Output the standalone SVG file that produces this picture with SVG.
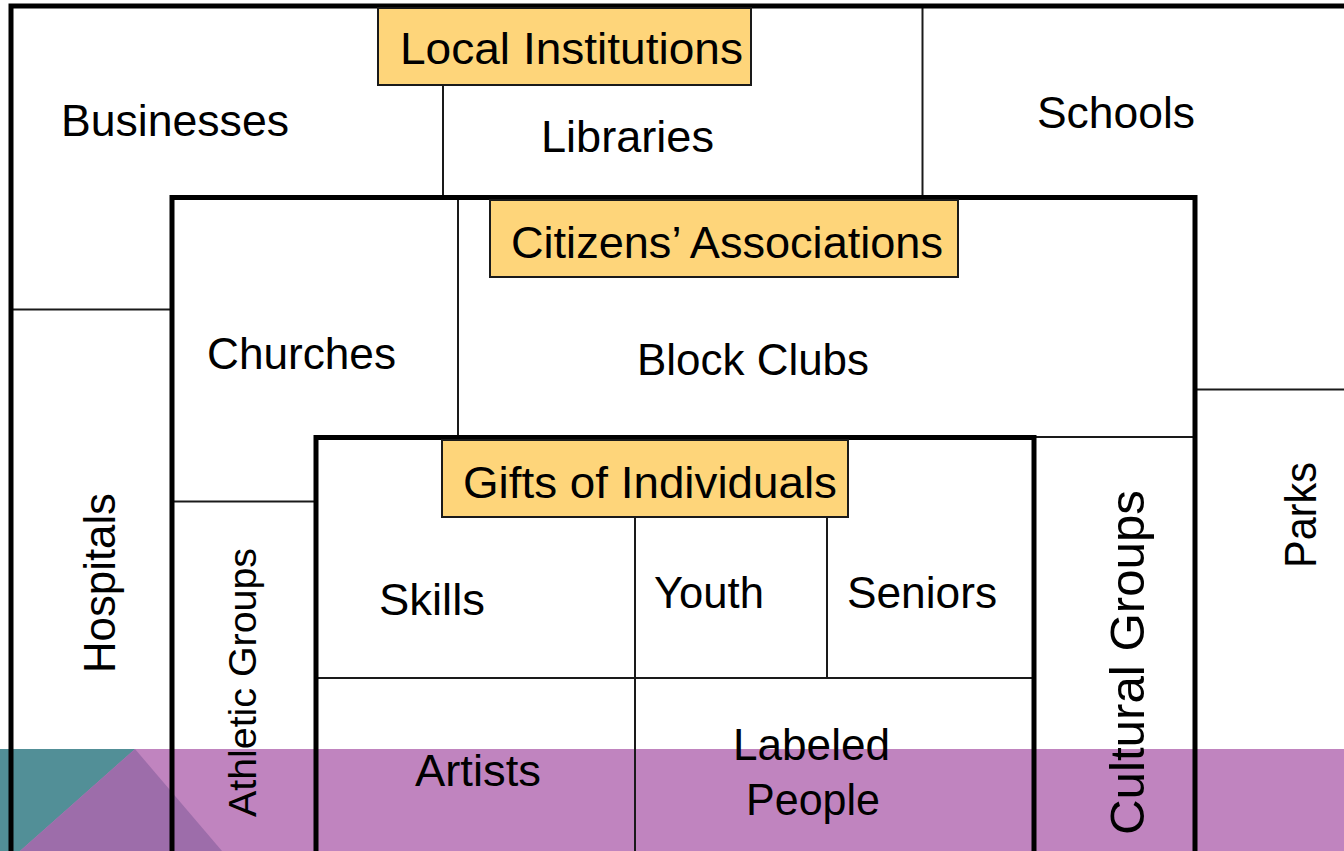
<svg xmlns="http://www.w3.org/2000/svg" width="1344" height="851" viewBox="0 0 1344 851">
<style>
  .thick { stroke: #000; stroke-width: 5; fill: none; stroke-linecap: square; }
  .thin { stroke: #1a1a1a; stroke-width: 2; fill: none; }
  .tag { fill: #FED57A; stroke: #1a1a1a; stroke-width: 2; }
  .lbl { font-family: "Liberation Sans", Arial, sans-serif; font-size: 44px; fill: #000; }
  .vl { font-family: "Liberation Sans", Arial, sans-serif; fill: #000; }
</style>
<rect x="0" y="0" width="1344" height="851" fill="#ffffff"/>
<g id="band">
  <rect x="0" y="749" width="1344" height="102" fill="#C084BF"/>
  <polygon points="0,749 135,749 20,851 0,851" fill="#528F97"/>
  <polygon points="135,749 222,851 20,851" fill="#9D6DAA"/>
</g>
<g id="dividers">
  <line class="thin" x1="443" y1="85" x2="443" y2="196"/>
  <line class="thin" x1="922.5" y1="8" x2="922.5" y2="196"/>
  <line class="thin" x1="13" y1="309.5" x2="170" y2="309.5"/>
  <line class="thin" x1="458" y1="200" x2="458" y2="435"/>
  <line class="thin" x1="174" y1="501.5" x2="314" y2="501.5"/>
  <line class="thin" x1="1036" y1="437" x2="1193" y2="437"/>
  <line class="thin" x1="1197" y1="389.5" x2="1344" y2="389.5"/>
  <line class="thin" x1="635" y1="517" x2="635" y2="851"/>
  <line class="thin" x1="827" y1="517" x2="827" y2="678"/>
  <line class="thin" x1="318" y1="678" x2="1032" y2="678"/>
</g>
<g id="frames">
  <path class="thick" d="M11,853 L11,6 L1346,6"/>
  <path class="thick" d="M172,853 L172,197.5 L1195,197.5 L1195,853"/>
  <path class="thick" d="M316,853 L316,437.5 L1034,437.5 L1034,853"/>
</g>
<g id="local-institutions">
  <rect class="tag" x="378" y="8" width="373" height="77"/>
  <text class="lbl" x="400" y="64" textLength="343" lengthAdjust="spacingAndGlyphs">Local Institutions</text>
</g>
<g id="businesses"><text class="lbl" x="61" y="136" textLength="228" lengthAdjust="spacingAndGlyphs">Businesses</text></g>
<g id="libraries"><text class="lbl" x="541" y="152" textLength="173" lengthAdjust="spacingAndGlyphs">Libraries</text></g>
<g id="schools"><text class="lbl" x="1037" y="128" textLength="158" lengthAdjust="spacingAndGlyphs">Schools</text></g>
<g id="hospitals"><text class="vl" font-size="44" transform="translate(115,673) rotate(-90)" textLength="180" lengthAdjust="spacingAndGlyphs">Hospitals</text></g>
<g id="citizens-associations">
  <rect class="tag" x="490" y="200" width="468" height="77"/>
  <text class="lbl" x="511" y="258" textLength="432" lengthAdjust="spacingAndGlyphs">Citizens’ Associations</text>
</g>
<g id="churches"><text class="lbl" x="207" y="369" textLength="189" lengthAdjust="spacingAndGlyphs">Churches</text></g>
<g id="block-clubs"><text class="lbl" x="637" y="375" textLength="232" lengthAdjust="spacingAndGlyphs">Block Clubs</text></g>
<g id="athletic-groups"><text class="vl" font-size="39.5" transform="translate(256,817) rotate(-90)" textLength="269" lengthAdjust="spacingAndGlyphs">Athletic Groups</text></g>
<g id="cultural-groups"><text class="vl" font-size="49" transform="translate(1144,835) rotate(-90)" textLength="345" lengthAdjust="spacingAndGlyphs">Cultural Groups</text></g>
<g id="parks"><text class="vl" font-size="44" transform="translate(1316,568) rotate(-90)" textLength="106" lengthAdjust="spacingAndGlyphs">Parks</text></g>
<g id="gifts-of-individuals">
  <rect class="tag" x="442" y="440" width="406" height="77"/>
  <text class="lbl" x="463" y="498" textLength="374" lengthAdjust="spacingAndGlyphs">Gifts of Individuals</text>
</g>
<g id="skills"><text class="lbl" x="379" y="615" textLength="106" lengthAdjust="spacingAndGlyphs">Skills</text></g>
<g id="youth"><text class="lbl" x="654" y="608" textLength="110" lengthAdjust="spacingAndGlyphs">Youth</text></g>
<g id="seniors"><text class="lbl" x="847" y="608" textLength="150" lengthAdjust="spacingAndGlyphs">Seniors</text></g>
<g id="artists"><text class="lbl" x="415" y="786" textLength="126" lengthAdjust="spacingAndGlyphs">Artists</text></g>
<g id="labeled-people">
  <text class="lbl" x="733" y="760" textLength="157" lengthAdjust="spacingAndGlyphs">Labeled</text>
  <text class="lbl" x="746" y="815" textLength="134" lengthAdjust="spacingAndGlyphs">People</text>
</g>
</svg>
